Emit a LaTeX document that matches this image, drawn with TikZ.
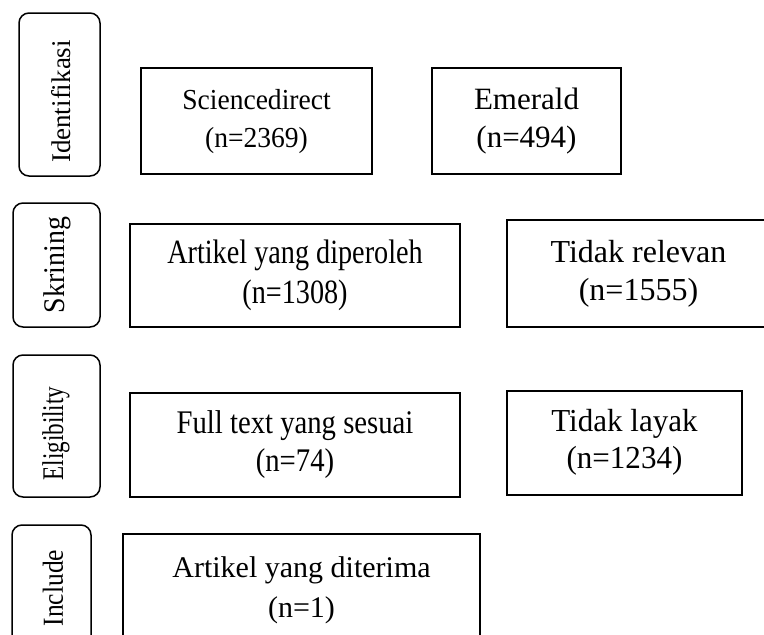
\documentclass[tikz,border=0pt]{standalone}
\usepackage{fontspec}
\setmainfont{Liberation Serif}
\usepackage{graphicx}
\newcommand\boxtext[4]{\scalebox{#3}[1]{\fontsize{#1}{#2}\selectfont\begin{tabular}{@{}c@{}}#4\end{tabular}}}
\newcommand\sidetext[3]{\scalebox{#2}[1]{\fontsize{#1}{#1}\selectfont #3}}
\begin{document}
\begin{tikzpicture}[x=1pt,y=-1pt,
  rectbox/.style={draw=black,line width=1.8pt,rectangle,inner sep=0pt,align=center},
  sidebox/.style={draw=black,line width=1.5pt,rectangle,rounded corners=10pt,inner sep=0pt},
  sidelabel/.style={rotate=90,inner sep=0pt,anchor=center}]
\useasboundingbox (0,0) rectangle (764,635);
\clip (0,0) rectangle (764,635);
\fill[white] (0,0) rectangle (764,635);
% stage boxes
\node[sidebox,minimum width=81pt,minimum height=163pt] (idf) at (59.5,94.5) {};
\node[sidelabel] (idft) at (61,101.5) {\sidetext{27}{1}{Identifikasi}};
\node[sidebox,minimum width=87pt,minimum height=124pt] (skr) at (56.5,265) {};
\node[sidelabel] (skrt) at (57,265) {\sidetext{30}{0.93}{Skrining}};
\node[sidebox,minimum width=87pt,minimum height=142pt] (elg) at (56.5,426) {};
\node[sidelabel] (elgt) at (56,433.5) {\sidetext{30}{0.77}{Eligibility}};
\node[sidebox,minimum width=79pt,minimum height=126pt] (inc) at (51.5,588) {};
\node[sidelabel] (inct) at (53,588) {\sidetext{29}{0.88}{Include}};
% content boxes
\node[rectbox,minimum width=231pt,minimum height=106pt] (sci) at (256.5,121) {\boxtext{29}{38}{0.95}{Sciencedirect\\(n=2369)}};
\node[rectbox,minimum width=189pt,minimum height=106pt] (emr) at (526.5,121) {\boxtext{31}{38}{1}{Emerald\\(n=494)}};
\node[rectbox,minimum width=330pt,minimum height=103pt] (dip) at (295,275.5) {\boxtext{34}{40}{0.83}{Artikel yang diperoleh\\(n=1308)}};
\node[rectbox,minimum width=263pt,minimum height=107pt] (rel) at (638.5,273.5) {\boxtext{32}{38}{1}{Tidak relevan\\(n=1555)}};
\node[rectbox,minimum width=330pt,minimum height=104pt] (ful) at (295,445) {\boxtext{33}{38}{0.87}{Full text yang sesuai\\(n=74)}};
\node[rectbox,minimum width=235pt,minimum height=104pt] (lay) at (624.5,443) {\boxtext{32}{37}{0.97}{Tidak layak\\(n=1234)}};
\node[rectbox,minimum width=357pt,minimum height=110pt] (ter) at (301.5,589) {\boxtext{30}{40}{1}{Artikel yang diterima\\(n=1)}};
\end{tikzpicture}
\end{document}
